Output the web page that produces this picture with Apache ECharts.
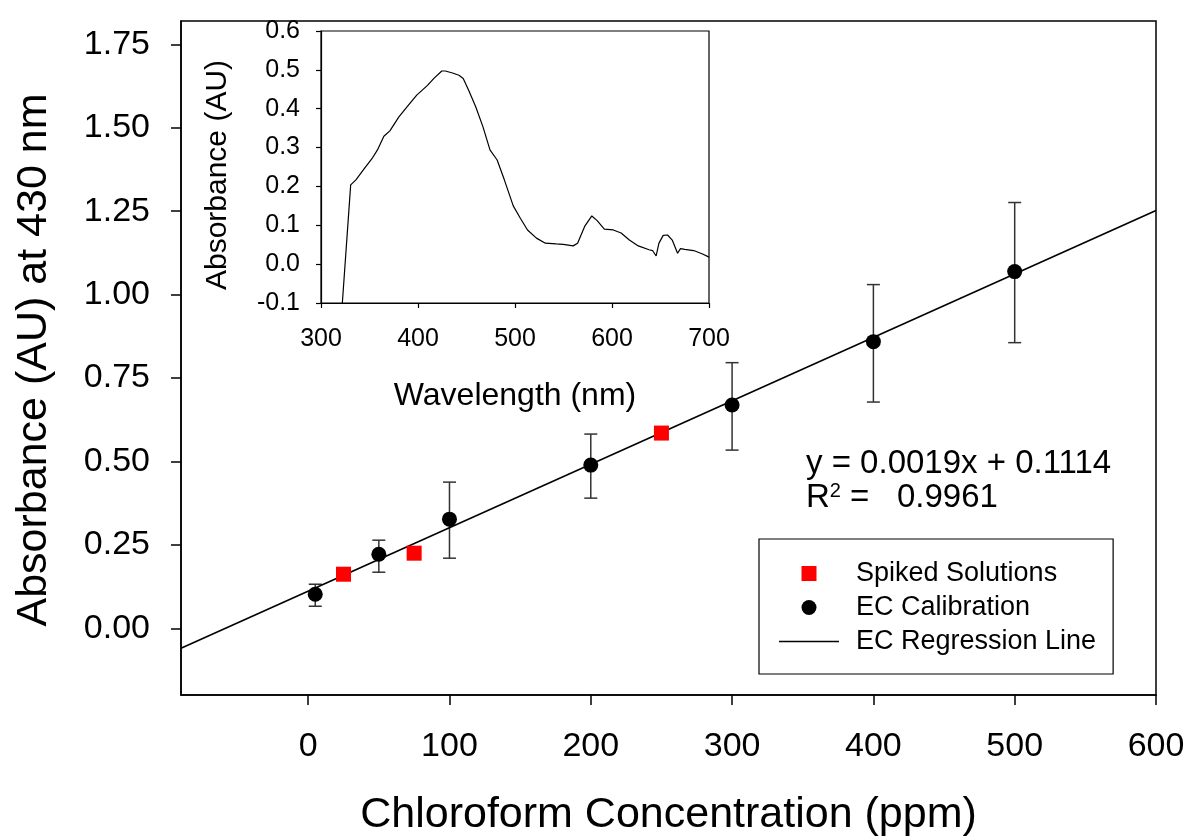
<!DOCTYPE html>
<html>
<head>
<meta charset="utf-8">
<script src="https://cdn.jsdelivr.net/npm/echarts@6/dist/echarts.min.js"></script>
<style>
  html, body { margin: 0; padding: 0; background: #fff; }
  #chart { width: 1192px; height: 840px; }
</style>
</head>
<body>
<div id="chart"></div>
<script>
// EC calibration: concentration (ppm), absorbance, error bar low/high
var calX = [5, 50, 100, 200, 300, 400, 500];
var calY = [0.102, 0.222, 0.327, 0.489, 0.669, 0.859, 1.069];
var calLow = [0.066, 0.168, 0.210, 0.390, 0.534, 0.678, 0.856];
var calHigh = [0.132, 0.264, 0.438, 0.582, 0.796, 1.030, 1.276];

// spiked solutions
var spikeX = [25, 75, 250];
var spikeY = [0.162, 0.225, 0.585];

// regression line end points
var regX = [-90, 600];
var regY = [-0.060, 1.252];

var xTicks = [0, 100, 200, 300, 400, 500, 600];
var yTicks = [0, 0.25, 0.5, 0.75, 1.0, 1.25, 1.5, 1.75];

// inset spectrum
var waveNm = [322, 330.6, 336, 345, 352.7, 358.2, 364.8, 371, 380.3, 389.5, 398.7, 409.8, 416.4, 424.5, 428.2,
  435.6, 442.2, 446.6, 452.1, 459.5, 466.9, 474.2, 481.6, 489, 498.2, 505.5, 512.9, 522.1, 531.3, 542.4,
  549.7, 560, 564.5, 571.8, 579.2, 584.7, 592.1, 601.3, 609.4, 617.9, 627.1, 638.2, 641.8, 645.5, 648.4,
  652.8, 657.3, 662.1, 667.6, 670.6, 675, 684.2, 693.4, 700];
var waveAbs = [-0.1, 0.204, 0.217, 0.247, 0.272, 0.294, 0.329, 0.343, 0.379, 0.407, 0.435, 0.460, 0.478, 0.497, 0.497,
  0.492, 0.486, 0.478, 0.448, 0.405, 0.354, 0.294, 0.268, 0.217, 0.150, 0.118, 0.088, 0.067, 0.054, 0.052,
  0.051, 0.047, 0.054, 0.097, 0.124, 0.112, 0.090, 0.088, 0.080, 0.062, 0.047, 0.037, 0.035, 0.021, 0.054,
  0.074, 0.075, 0.062, 0.028, 0.040, 0.038, 0.035, 0.026, 0.018];

var FONT = 'Liberation Sans, Arial, sans-serif';

function zip(a, b) {
  var out = [];
  for (var i = 0; i < a.length; i++) out.push([a[i], b[i]]);
  return out;
}

var errData = [];
for (var i = 0; i < calX.length; i++) errData.push([calX[i], calLow[i], calHigh[i]]);

var chart = echarts.init(document.getElementById('chart'));

var option = {
  animation: false,
  backgroundColor: '#fff',
  textStyle: { fontFamily: FONT, color: '#000' },
  grid: [
    { left: 181, top: 21, right: 36, bottom: 145, show: true, borderColor: '#000', borderWidth: 1.5, outerBoundsMode: 'none' },
    { left: 321, top: 31, width: 388, height: 272, show: true, borderColor: '#000', borderWidth: 1.2, outerBoundsMode: 'none' }
  ],
  xAxis: [{
    gridIndex: 0,
    type: 'value',
    min: -90,
    max: 600,
    name: 'Chloroform Concentration (ppm)',
    nameLocation: 'middle',
    nameGap: 99,
    nameTextStyle: { fontSize: 43, fontFamily: FONT, color: '#000' },
    axisLine: { onZero: false, lineStyle: { color: '#000', width: 1.5 } },
    axisTick: { show: true, inside: false, length: 10, customValues: xTicks, lineStyle: { color: '#000', width: 1.5 } },
    axisLabel: { customValues: xTicks, fontSize: 34, margin: 35, color: '#000', fontFamily: FONT },
    splitLine: { show: false }
  }, {
    gridIndex: 1,
    type: 'value',
    min: 300,
    max: 700,
    interval: 100,
    name: 'Wavelength (nm)',
    nameLocation: 'middle',
    nameGap: 77,
    nameTextStyle: { fontSize: 32, fontFamily: FONT, color: '#000' },
    axisLine: { onZero: false, lineStyle: { color: '#000', width: 1.2 } },
    axisTick: { length: 5, lineStyle: { color: '#000', width: 1.2 } },
    axisLabel: { fontSize: 25, margin: 24, color: '#000', fontFamily: FONT },
    splitLine: { show: false }
  }],
  yAxis: [{
    gridIndex: 0,
    type: 'value',
    min: -0.2,
    max: 1.82,
    name: 'Absorbance (AU) at 430 nm',
    nameLocation: 'middle',
    nameGap: 125,
    nameTextStyle: { fontSize: 43, fontFamily: FONT, color: '#000', padding: [0, 4, 0, 0] },
    axisLine: { onZero: false, lineStyle: { color: '#000', width: 1.5 } },
    axisTick: { length: 10, customValues: yTicks, lineStyle: { color: '#000', width: 1.5 } },
    axisLabel: {
      customValues: yTicks, fontSize: 34, margin: 31, color: '#000', fontFamily: FONT,
      formatter: function (v) { return v.toFixed(2); }
    },
    splitLine: { show: false }
  }, {
    gridIndex: 1,
    type: 'value',
    min: -0.1,
    max: 0.6,
    interval: 0.1,
    name: 'Absorbance (AU)',
    nameLocation: 'middle',
    nameGap: 88,
    nameTextStyle: { fontSize: 30, fontFamily: FONT, color: '#000', padding: [0, 16, 0, 0] },
    axisLine: { onZero: false, lineStyle: { color: '#000', width: 1.2 } },
    axisTick: { length: 5, lineStyle: { color: '#000', width: 1.2 } },
    axisLabel: {
      fontSize: 25, margin: 21, color: '#000', fontFamily: FONT,
      formatter: function (v) { return v.toFixed(1); }
    },
    splitLine: { show: false }
  }],
  legend: {
    orient: 'vertical',
    left: 759,
    top: 539,
    padding: [21, 17, 19, 20],
    itemGap: 7,
    itemWidth: 60,
    itemHeight: 15,
    borderColor: '#000',
    borderWidth: 1.2,
    textStyle: { fontSize: 27, fontFamily: FONT, color: '#000', padding: [0, 0, 0, 12] },
    data: [
      { name: 'Spiked Solutions', icon: 'path://M0,0L10,0L10,10L0,10Z' },
      { name: 'EC Calibration', icon: 'circle' },
      { name: 'EC Regression Line', icon: 'path://M0,0L60,0L60,1.6L0,1.6Z' }
    ]
  },
  graphic: [{
    type: 'text',
    left: 806,
    top: 447,
    style: { text: 'y = 0.0019x + 0.1114', font: '33px ' + FONT, fill: '#000' }
  }, {
    type: 'text',
    left: 806,
    top: 481,
    style: {
      text: 'R{sup|2} =   0.9961',
      font: '33px ' + FONT,
      fill: '#000',
      rich: { sup: { fontSize: 20, verticalAlign: 'top', padding: [0, 0, 14, 0], fontFamily: FONT } }
    }
  }],
  series: [{
    name: 'error',
    type: 'custom',
    xAxisIndex: 0,
    yAxisIndex: 0,
    data: errData,
    z: 2,
    renderItem: function (params, api) {
      var x = api.value(0);
      var lo = api.coord([x, api.value(1)]);
      var hi = api.coord([x, api.value(2)]);
      var cap = 6.5;
      var st = { stroke: '#333', lineWidth: 1.5 };
      return {
        type: 'group',
        children: [
          { type: 'line', shape: { x1: lo[0], y1: lo[1], x2: hi[0], y2: hi[1] }, style: st },
          { type: 'line', shape: { x1: lo[0] - cap, y1: lo[1], x2: lo[0] + cap, y2: lo[1] }, style: st },
          { type: 'line', shape: { x1: hi[0] - cap, y1: hi[1], x2: hi[0] + cap, y2: hi[1] }, style: st }
        ]
      };
    }
  }, {
    name: 'EC Regression Line',
    type: 'line',
    xAxisIndex: 0,
    yAxisIndex: 0,
    data: zip(regX, regY),
    symbol: 'none',
    z: 3,
    lineStyle: { color: '#000', width: 1.6 },
    itemStyle: { color: '#000' }
  }, {
    name: 'EC Calibration',
    type: 'scatter',
    xAxisIndex: 0,
    yAxisIndex: 0,
    data: zip(calX, calY),
    symbol: 'circle',
    symbolSize: 15,
    z: 4,
    itemStyle: { color: '#000', opacity: 1 }
  }, {
    name: 'Spiked Solutions',
    type: 'scatter',
    xAxisIndex: 0,
    yAxisIndex: 0,
    data: zip(spikeX, spikeY),
    symbol: 'rect',
    symbolSize: 15,
    z: 4,
    itemStyle: { color: '#ff0000', opacity: 1 }
  }, {
    name: 'spectrum',
    type: 'line',
    xAxisIndex: 1,
    yAxisIndex: 1,
    data: zip(waveNm, waveAbs),
    symbol: 'none',
    clip: true,
    lineStyle: { color: '#000', width: 1.2 }
  }]
};

chart.setOption(option);
</script>
</body>
</html>
